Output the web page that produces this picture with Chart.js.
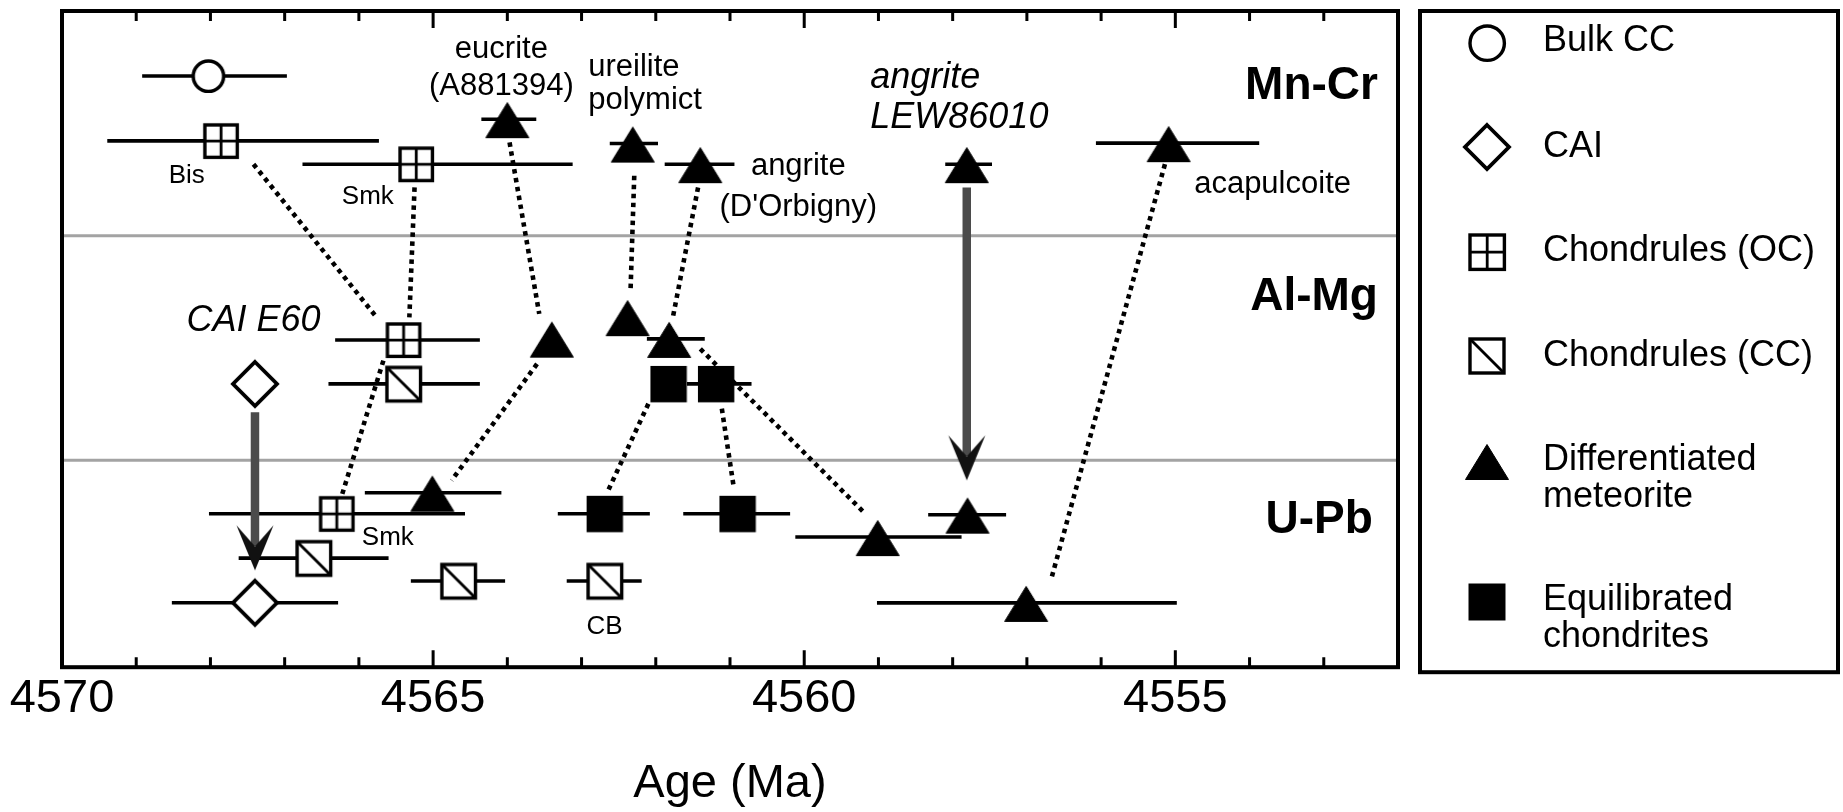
<!DOCTYPE html>
<html lang="en">
<head>
<meta charset="utf-8">
<title>Age (Ma)</title>
<script src="https://cdn.jsdelivr.net/npm/chart.js@4.4.1/dist/chart.umd.min.js"></script>
<style>
  html, body { margin: 0; padding: 0; background: #fff; }
  canvas { display: block; }
</style>
</head>
<body>
<canvas id="ages" width="1843" height="812"></canvas>
<script>
// ---------------------------------------------------------------------------
// Data
// ---------------------------------------------------------------------------

// Labelled ages on the x axis (Ma)
const tickAges = [4570, 4565, 4560, 4555];

// Chronometers, top to bottom, and the rows of the lines that separate them
const sectionNames = ['Mn-Cr', 'Al-Mg', 'U-Pb'];
const sectionBreaks = [10.14, 20.27];

// One entry per age: [age, row, older error limit, younger error limit] (Ma)
const bulkCC = [
  [4568.03, 2.93, 4568.92, 4566.97]
];
const cai = [
  [4567.40, 16.82, null, null],          // CAI E60, Al-Mg
  [4567.40, 26.69, 4568.52, 4566.28]     // U-Pb
];
const chondrulesOC = [
  [4567.86, 5.86, 4569.39, 4565.73],     // Bis, Mn-Cr
  [4565.23, 6.91, 4566.76, 4563.12],     // Smk, Mn-Cr
  [4565.40, 14.84, 4566.32, 4564.37],    // Al-Mg
  [4566.30, 22.68, 4568.02, 4564.57]     // Smk, U-Pb
];
const chondrulesCC = [
  [4565.40, 16.82, 4566.41, 4564.37],    // Al-Mg
  [4566.61, 24.68, 4567.62, 4565.60],    // U-Pb
  [4564.66, 25.71, 4565.30, 4564.03],    // U-Pb
  [4562.69, 25.71, 4563.20, 4562.19]     // CB, U-Pb
];
const differentiated = [
  [4564.00, 4.88, 4564.35, 4563.61],     // eucrite A881394, Mn-Cr
  [4562.31, 5.98, 4562.62, 4561.97],     // ureilite polymict, Mn-Cr
  [4561.40, 6.91, 4561.88, 4560.94],     // angrite D'Orbigny, Mn-Cr
  [4557.81, 6.91, 4558.10, 4557.47],     // angrite LEW86010, Mn-Cr
  [4555.09, 5.96, 4556.07, 4553.87],     // acapulcoite, Mn-Cr
  [4563.40, 14.78, null, null],          // eucrite, Al-Mg
  [4562.38, 13.81, null, null],          // ureilite, Al-Mg
  [4561.82, 14.79, 4562.12, 4561.34],    // D'Orbigny, Al-Mg
  [4565.01, 21.73, 4565.92, 4564.08],    // eucrite, U-Pb
  [4559.01, 23.73, 4560.12, 4557.88],    // D'Orbigny, U-Pb
  [4557.80, 22.72, 4558.33, 4557.28],    // LEW86010, U-Pb
  [4557.01, 26.70, 4559.02, 4554.98]     // acapulcoite, U-Pb
];
const equilibrated = [
  [4561.83, 16.82, null, null],          // Al-Mg
  [4561.19, 16.82, 4561.58, 4560.71],    // Al-Mg
  [4562.69, 22.68, 4563.32, 4562.08],    // U-Pb
  [4560.90, 22.68, 4561.63, 4560.19]     // U-Pb
];

// Dotted links between ages of the same object: [age 1, row 1, age 2, row 2]
const links = [
  [4567.42, 6.91, 4565.76, 13.82],
  [4565.25, 7.96, 4565.32, 13.82],
  [4563.97, 5.93, 4563.57, 13.66],
  [4563.60, 15.92, 4564.75, 21.17],
  [4562.29, 7.43, 4562.34, 12.61],
  [4561.43, 7.96, 4561.77, 13.82],
  [4561.40, 15.24, 4559.18, 22.67],
  [4562.10, 17.72, 4562.64, 21.62],
  [4561.11, 17.94, 4560.95, 21.47],
  [4565.67, 15.77, 4566.23, 21.85],
  [4555.14, 6.91, 4556.67, 25.60]
];

// Anchoring shifts (solid arrows): [age, start row, tip row]
const shifts = [
  [4567.40, 18.10, 25.23],
  [4557.81, 7.96, 21.17]
];

// ---------------------------------------------------------------------------
// Drawing helpers
// ---------------------------------------------------------------------------
const INK = '#000';
const FONT = '"Liberation Sans", Arial, Helvetica, sans-serif';
const ROW_MAX = 29.6;

function sprite(w, h, paint) {
  const c = document.createElement('canvas');
  c.width = w; c.height = h;
  const g = c.getContext('2d');
  g.translate(w / 2, h / 2);
  g.strokeStyle = INK;
  g.fillStyle = '#fff';
  paint(g);
  return c;
}
const ring = r => sprite(2 * r + 8, 2 * r + 8, g => {
  g.beginPath(); g.arc(0, 0, r, 0, Math.PI * 2);
  g.fill(); g.lineWidth = 3.4; g.stroke();
});
const diamond = h => sprite(2 * h + 8, 2 * h + 8, g => {
  g.beginPath(); g.moveTo(0, -h); g.lineTo(h, 0); g.lineTo(0, h); g.lineTo(-h, 0); g.closePath();
  g.fill(); g.lineWidth = 3.8; g.stroke();
});
const gridSquare = h => sprite(2 * h + 8, 2 * h + 8, g => {
  g.fillRect(-h, -h, 2 * h, 2 * h);
  g.lineWidth = 3.4; g.strokeRect(-h, -h, 2 * h, 2 * h);
  g.lineWidth = 2.8; g.beginPath();
  g.moveTo(0, -h); g.lineTo(0, h); g.moveTo(-h, 0); g.lineTo(h, 0); g.stroke();
});
const slashSquare = h => sprite(2 * h + 8, 2 * h + 8, g => {
  g.fillRect(-h, -h, 2 * h, 2 * h);
  g.lineWidth = 3.4; g.strokeRect(-h, -h, 2 * h, 2 * h);
  g.lineWidth = 2.8; g.beginPath(); g.moveTo(-h, -h); g.lineTo(h, h); g.stroke();
});
const solidTriangle = () => sprite(48, 44, g => {
  g.beginPath(); g.moveTo(0, -16.5); g.lineTo(21.5, 18.5); g.lineTo(-21.5, 18.5); g.closePath();
  g.fillStyle = INK; g.fill();
  g.lineJoin = 'round'; g.lineWidth = 1; g.stroke();
});
const solidSquare = h => sprite(2 * h + 6, 2 * h + 6, g => {
  g.fillStyle = INK; g.fillRect(-h, -h, 2 * h, 2 * h);
});
// arrowhead whose tip sits at the centre of the sprite
const arrowHead = sprite(44, 100, g => {
  g.beginPath(); g.moveTo(0, 0); g.lineTo(-18.5, -45); g.lineTo(0, -24); g.lineTo(18.5, -45); g.closePath();
  g.fillStyle = '#111'; g.fill();
});

const symbols = {
  bulk: ring(15.2), cai: diamond(22), oc: gridSquare(16.2), cc: slashSquare(16.8),
  diff: solidTriangle(), eq: solidSquare(18.2)
};
const legendSymbols = [ring(17.2), diamond(22), gridSquare(17.2), slashSquare(17), solidTriangle(), solidSquare(18.5)];

const markerSeries = [
  ['Bulk CC', bulkCC, symbols.bulk],
  ['CAI', cai, symbols.cai],
  ['Chondrules (OC)', chondrulesOC, symbols.oc],
  ['Chondrules (CC)', chondrulesCC, symbols.cc],
  ['Differentiated meteorite', differentiated, symbols.diff],
  ['Equilibrated chondrites', equilibrated, symbols.eq]
];

// error bars and links as broken polylines (null rows split the segments)
const errorData = [];
markerSeries.forEach(([, list]) => list.forEach(([age, row, older, younger]) => {
  if (older === null) return;
  errorData.push({ x: older, y: row }, { x: younger, y: row }, { x: younger, y: null });
}));
const linkData = [];
links.forEach(([a1, r1, a2, r2]) => linkData.push({ x: a1, y: r1 }, { x: a2, y: r2 }, { x: a2, y: null }));
const shaftData = [];
shifts.forEach(([age, from, to]) => shaftData.push({ x: age, y: from }, { x: age, y: to - 1.1 }, { x: age, y: null }));
const headData = shifts.map(([age, , to]) => ({ x: age, y: to }));

// ---------------------------------------------------------------------------
// Text placed on the plot: [text, age, baseline row, align, style]
// ---------------------------------------------------------------------------
const noteFonts = {
  note: `31px ${FONT}`,
  small: `26px ${FONT}`,
  italic: `italic 36px ${FONT}`,
  section: `bold 46px ${FONT}`
};
const notes = [
  ['eucrite', 4564.08, 2.10, 'center', 'note'],
  ['(A881394)', 4564.08, 3.80, 'center', 'note'],
  ['ureilite', 4562.91, 2.93, 'left', 'note'],
  ['polymict', 4562.91, 4.42, 'left', 'note'],
  ['angrite', 4559.11, 3.48, 'left', 'italic'],
  ['LEW86010', 4559.11, 5.26, 'left', 'italic'],
  ['angrite', 4560.08, 7.39, 'center', 'note'],
  ["(D'Orbigny)", 4560.08, 9.24, 'center', 'note'],
  ['acapulcoite', 4553.69, 8.22, 'center', 'note'],
  ['Bis', 4568.32, 7.74, 'center', 'small'],
  ['Smk', 4565.88, 8.71, 'center', 'small'],
  ['CAI E60', 4567.42, 14.42, 'center', 'italic'],
  ['Smk', 4565.61, 24.10, 'center', 'small'],
  ['CB', 4562.69, 28.08, 'center', 'small'],
  [sectionNames[0], 4552.27, 3.99, 'right', 'section'],
  [sectionNames[1], 4552.27, 13.47, 'right', 'section'],
  [sectionNames[2], 4552.34, 23.55, 'right', 'section']
];

// ---------------------------------------------------------------------------
// Plugins: section lines, frame with inward ticks, notes, legend box
// ---------------------------------------------------------------------------
const framePlugin = {
  id: 'frame',
  beforeDatasetsDraw(chart) {
    const { ctx, chartArea: a, scales: { y } } = chart;
    ctx.save();
    ctx.strokeStyle = '#a3a3a3';
    ctx.lineWidth = 3;
    sectionBreaks.forEach(v => {
      const py = y.getPixelForValue(v);
      ctx.beginPath(); ctx.moveTo(a.left, py); ctx.lineTo(a.right, py); ctx.stroke();
    });
    ctx.restore();
  },
  afterDatasetsDraw(chart) {
    const { ctx, chartArea: a, scales: { x, y } } = chart;
    ctx.save();
    ctx.strokeStyle = INK;
    ctx.lineWidth = 3;
    for (let v = Math.ceil(x.min) + 1; v < x.max; v++) {
      const px = x.getPixelForValue(v);
      const len = v % 5 === 0 ? 17 : 10;
      ctx.beginPath();
      ctx.moveTo(px, a.top); ctx.lineTo(px, a.top + len);
      ctx.moveTo(px, a.bottom); ctx.lineTo(px, a.bottom - len);
      ctx.stroke();
    }
    ctx.lineWidth = 4;
    ctx.strokeRect(a.left, a.top, a.right - a.left, a.bottom - a.top);

    ctx.fillStyle = INK;
    ctx.textBaseline = 'alphabetic';
    notes.forEach(([text, age, row, align, style]) => {
      ctx.font = noteFonts[style];
      ctx.textAlign = align;
      ctx.fillText(text, x.getPixelForValue(age), y.getPixelForValue(row));
    });
    ctx.restore();
  }
};

const legendEntries = [
  ['Bulk CC'], ['CAI'], ['Chondrules (OC)'], ['Chondrules (CC)'],
  ['Differentiated', 'meteorite'], ['Equilibrated', 'chondrites']
];
const legendPlugin = {
  id: 'boxLegend',
  afterDraw(chart) {
    const { ctx, chartArea: a } = chart;
    const box = { left: a.right + 22, top: a.top, right: chart.width - 5, bottom: a.bottom + 5 };
    const symbolX = box.left + 67;
    const textX = box.left + 123;
    const symbolY = [43, 147, 252, 356, 461, 602];
    const textY = [41, 147, 251, 356, 460, 600];
    ctx.save();
    ctx.strokeStyle = INK;
    ctx.lineWidth = 4;
    ctx.strokeRect(box.left, box.top, box.right - box.left, box.bottom - box.top);
    ctx.fillStyle = INK;
    ctx.font = `36px ${FONT}`;
    ctx.textAlign = 'left';
    ctx.textBaseline = 'middle';
    legendEntries.forEach((lines, i) => {
      const img = legendSymbols[i];
      ctx.drawImage(img, symbolX - img.width / 2, symbolY[i] - img.height / 2);
      lines.forEach((t, k) => ctx.fillText(t, textX, textY[i] + k * 37));
    });
    ctx.restore();
  }
};

// ---------------------------------------------------------------------------
// Chart
// ---------------------------------------------------------------------------
const datasets = [
  { label: 'error bars', data: errorData, showLine: true, borderColor: INK, borderWidth: 3.6,
    pointRadius: 0, borderCapStyle: 'butt', order: 6 },
  { label: 'links', data: linkData, showLine: true, borderColor: INK, borderWidth: 4.6,
    borderDash: [4.5, 4.5], pointRadius: 0, borderCapStyle: 'butt', order: 5 },
  { label: 'shifts', data: shaftData, showLine: true, borderColor: '#4b4b4b', borderWidth: 8.5,
    pointRadius: 0, borderCapStyle: 'butt', order: 4 },
  ...markerSeries.map(([label, list, img]) => ({
    label, data: list.map(([age, row]) => ({ x: age, y: row })),
    pointStyle: img, pointRadius: 10, order: 1
  })),
  { label: 'shift heads', data: headData, pointStyle: arrowHead, pointRadius: 10, order: 0 }
];

new Chart(document.getElementById('ages'), {
  type: 'scatter',
  data: { datasets },
  options: {
    responsive: false,
    animation: false,
    events: [],
    layout: { padding: { left: 62, right: 445, top: 10, bottom: 0 } },
    plugins: { legend: { display: false }, tooltip: { enabled: false } },
    scales: {
      x: {
        type: 'linear', reverse: true, min: 4552, max: 4570,
        afterBuildTicks: axis => { axis.ticks = tickAges.map(v => ({ value: v })); },
        grid: { display: false, drawTicks: false },
        border: { display: false },
        ticks: { color: INK, font: { family: FONT, size: 47 }, padding: 4,
                 maxRotation: 0, autoSkip: false, callback: v => String(v) },
        title: { display: true, text: 'Age (Ma)', color: INK,
                 font: { family: FONT, size: 47 }, padding: { top: 24, bottom: 0 } }
      },
      y: { type: 'linear', display: false, reverse: true, min: 0, max: ROW_MAX }
    }
  },
  plugins: [framePlugin, legendPlugin]
});
</script>
</body>
</html>
